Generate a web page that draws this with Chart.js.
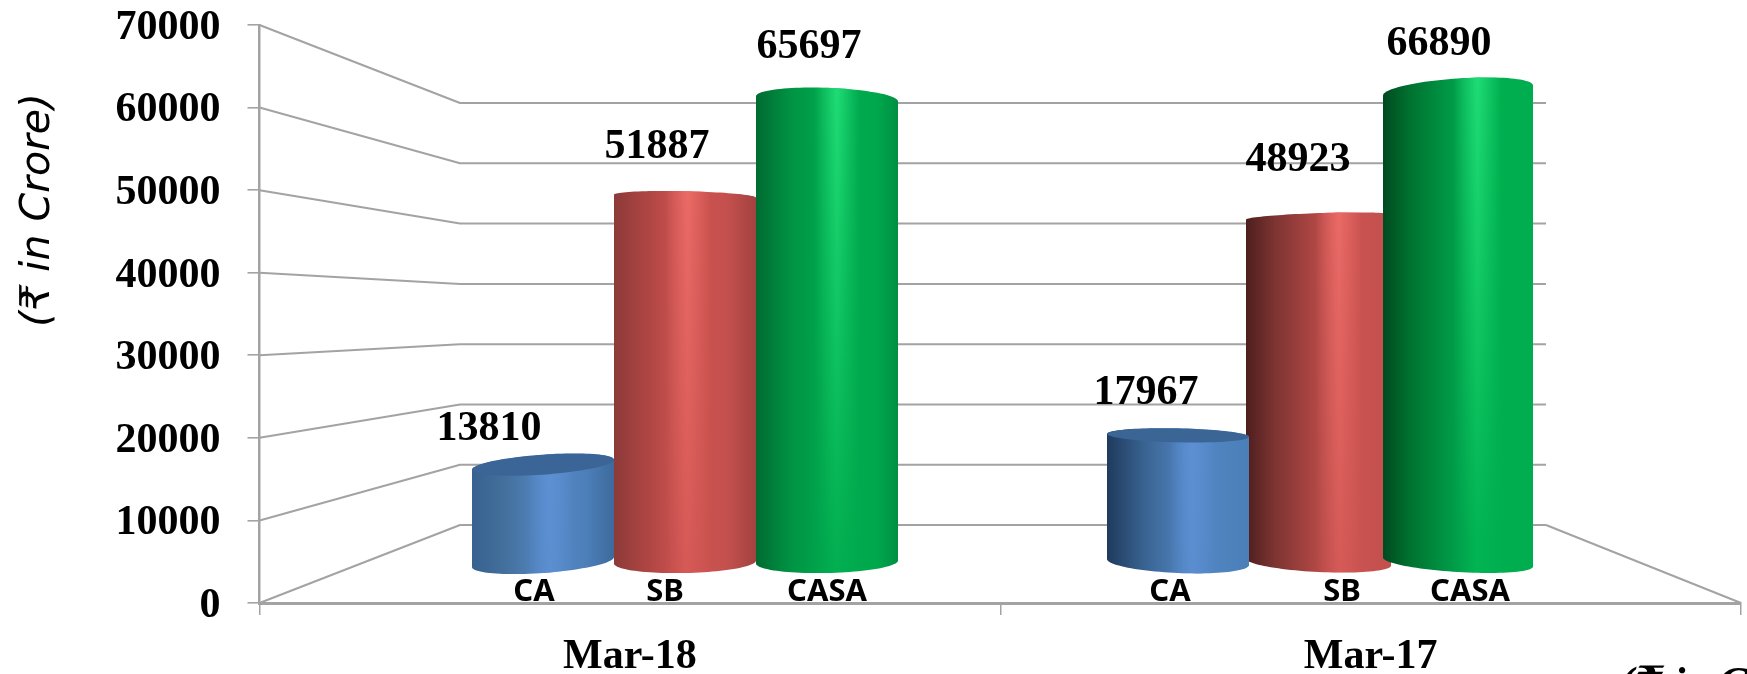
<!DOCTYPE html>
<html>
<head>
<meta charset="utf-8">
<title>CASA deposits</title>
<style>
  html, body { margin: 0; padding: 0; background: #fff; overflow: hidden; }
  canvas { display: block; }
</style>
<script src="https://cdn.jsdelivr.net/npm/chart.js@4/dist/chart.umd.js"></script>
</head>
<body>
<canvas id="chart" width="1747" height="674"></canvas>
<script>
// Deposit figures, in crore of rupees
const categories = ['Mar-18', 'Mar-17'];
const seriesNames = ['CA', 'SB', 'CASA'];
const valuesCA = [13810, 17967];
const valuesSB = [51887, 48923];
const valuesCASA = [65697, 66890];

const SERIF_BOLD = 'bold 42px "Liberation Serif", serif';
const GRID = '#a3a3a3';

// Receding walls of the pseudo-3D frame
const wall = { backLeft: 460, backRight: 1546, backZero: 525, depthRatio: 60.3 / 82.6 };
const plot = { left: 259.5, right: 1741, top: 25, bottom: 603 };

// Cylinders stand half way into the frame, so they use their own hidden scales
const barScaleX = { zero: 685, one: 1320 };
const barScaleY = { zero: 562, perTenThousand: 70.5 };

const xSpan = barScaleX.one - barScaleX.zero;
const xBarsMin = -(barScaleX.zero - plot.left) / xSpan;
const xBarsMax = 1 + (plot.right - barScaleX.one) / xSpan;
const yBarsMin = -(plot.bottom - barScaleY.zero) / barScaleY.perTenThousand * 10000;
const yBarsMax = (barScaleY.zero - plot.top) / barScaleY.perTenThousand * 10000;

// Shading per series and category: side gradient stops, highlight colour
const shades = [
  [
    { stops: [[0, '#37618f'], [.25, '#45719f'], [.55, '#568ac8'], [.8, '#4d7fb9'], [1, '#3d6a9c']], hi: '#5c90d4', hiAt: .55 },
    { stops: [[0, '#1f3a5c'], [.25, '#38618f'], [.6, '#5488c6'], [1, '#4a7fb8']], hi: '#5c90d4', hiAt: .6 }
  ],
  [
    { stops: [[0, '#8c3a38'], [.25, '#b04644'], [.5, '#cf5451'], [.8, '#c4504d'], [1, '#a24240']], hi: '#ea6a66', hiAt: .52 },
    { stops: [[0, '#4d1e1e'], [.2, '#7d3432'], [.45, '#aa4542'], [.65, '#cd5451'], [1, '#c2504d']], hi: '#ea6a66', hiAt: .64 }
  ],
  [
    { stops: [[0, '#006b32'], [.25, '#009444'], [.55, '#00ab4e'], [.85, '#00a84c'], [1, '#008f42']], hi: '#1fdc76', hiAt: .57 },
    { stops: [[0, '#004a20'], [.18, '#00722f'], [.42, '#009545'], [.62, '#00b050'], [1, '#00ad4e']], hi: '#1fdc76', hiAt: .63 }
  ]
];

// Cap geometry: tilt and minor radius of the top and bottom rims, left-edge overhang
const rims = [
  [
    { topTilt: 5, topB: 10, botTilt: 5, botB: 11, extra: 0, cap: '#3b6596' },
    { topTilt: -1.5, topB: 7, botTilt: -3, botB: 11, extra: 0, cap: '#3a6594' }
  ],
  [
    { topTilt: -1.5, topB: 5, botTilt: 1.5, botB: 11, extra: 0 },
    { topTilt: 2.5, topB: 4, botTilt: -3.5, botB: 10, extra: 3 }
  ],
  [
    { topTilt: -2.5, topB: 11, botTilt: 1.5, botB: 11, extra: 0 },
    { topTilt: 5, topB: 12, botTilt: -4.5, botB: 10, extra: 8 }
  ]
];

// Back-to-front painting order of the series inside each category
const paintOrder = [[0, 1, 2], [1, 0, 2]];

// Value label shifts relative to the top of each cylinder
const labelShift = [
  [{ dx: -54, dy: -35 }, { dx: -32, dy: -42 }],
  [{ dx: -28, dy: -49 }, { dx: -22, dy: -57 }],
  [{ dx: -18, dy: -52 }, { dx: -23, dy: -46 }]
];

// Series names printed just under each cylinder
const nameShift = [
  [{ dx: -9 }, { dx: -8 }],
  [{ dx: -20 }, { dx: 22 }],
  [{ dx: 0 }, { dx: 8 }]
];

function rimPoint(cx, cy, a, b, tilt, theta) {
  return [cx + a * Math.cos(theta), cy + b * Math.sin(theta) - tilt * Math.cos(theta)];
}

function cylinderPath(ctx, xl, xr, top, base, rim) {
  const a = (xr - xl) / 2, cx = (xl + xr) / 2, N = 48;
  ctx.beginPath();
  for (let i = 0; i <= N; i++) {
    const p = rimPoint(cx, top, a, rim.topB, rim.topTilt, Math.PI + Math.PI * i / N);
    i ? ctx.lineTo(p[0], p[1]) : ctx.moveTo(p[0], p[1]);
  }
  for (let i = 0; i <= N; i++) {
    const p = rimPoint(cx, base, a, rim.botB, rim.botTilt, Math.PI * i / N);
    ctx.lineTo(p[0], p[1]);
  }
  ctx.closePath();
}

function hexAlpha(hex, alpha) {
  const n = parseInt(hex.slice(1), 16);
  return `rgba(${n >> 16},${(n >> 8) & 255},${n & 255},${alpha})`;
}

function paintCylinder(ctx, bar, si, ci) {
  const rim = rims[si][ci], shade = shades[si][ci];
  const xl = bar.x - bar.width / 2 - rim.extra, xr = bar.x + bar.width / 2;
  const top = bar.y, base = bar.base;
  const extentTop = Math.floor(top - rim.topB - Math.abs(rim.topTilt) - 1);
  const extentBot = Math.ceil(base + rim.botB + Math.abs(rim.botTilt) + 1);

  ctx.save();
  cylinderPath(ctx, xl, xr, top, base, rim);
  ctx.clip();

  const side = ctx.createLinearGradient(xl, 0, xr, 0);
  shade.stops.forEach(s => side.addColorStop(s[0], s[1]));
  ctx.fillStyle = side;
  ctx.fillRect(xl - 1, extentTop, xr - xl + 2, extentBot - extentTop);

  // Specular band, brightest near the top and fading toward the floor
  const band = ctx.createLinearGradient(xl, 0, xr, 0);
  band.addColorStop(Math.max(0, shade.hiAt - .16), hexAlpha(shade.hi, 0));
  band.addColorStop(shade.hiAt, hexAlpha(shade.hi, 1));
  band.addColorStop(Math.min(1, shade.hiAt + .16), hexAlpha(shade.hi, 0));
  ctx.fillStyle = band;
  for (let y = extentTop; y < extentBot; y++) {
    ctx.globalAlpha = 1 - Math.min(1, (y - extentTop) / 470) * .92;
    ctx.fillRect(xl - 1, y, xr - xl + 2, 1);
  }
  ctx.globalAlpha = 1;

  if (rim.cap) {
    const a = (xr - xl) / 2, cx = (xl + xr) / 2;
    ctx.beginPath();
    for (let i = 0; i <= 72; i++) {
      const p = rimPoint(cx, top, a, rim.topB, rim.topTilt, 2 * Math.PI * i / 72);
      i ? ctx.lineTo(p[0], p[1]) : ctx.moveTo(p[0], p[1]);
    }
    ctx.closePath();
    ctx.fillStyle = rim.cap;
    ctx.fill();
  }
  ctx.restore();
}

const frame3d = {
  id: 'frame3d',
  beforeDatasetsDraw(chart) {
    const { ctx } = chart, y = chart.scales.y;
    const zero = y.getPixelForValue(0);
    ctx.save();
    ctx.strokeStyle = GRID;
    ctx.lineJoin = 'round';
    y.ticks.forEach(t => {
      const front = y.getPixelForValue(t.value);
      const back = wall.backZero + (front - zero) * wall.depthRatio;
      ctx.lineWidth = 2;
      ctx.beginPath();
      ctx.moveTo(plot.left, front);
      ctx.lineTo(wall.backLeft, back);
      ctx.lineTo(wall.backRight, back);
      ctx.stroke();
    });
    ctx.beginPath();
    ctx.moveTo(wall.backRight, wall.backZero);
    ctx.lineTo(plot.right, zero);
    ctx.stroke();
    ctx.restore();
  },
  beforeDatasetDraw() {
    return false;
  },
  afterDatasetsDraw(chart) {
    const { ctx } = chart;
    paintOrder.forEach((order, ci) => {
      order.forEach(si => paintCylinder(ctx, chart.getDatasetMeta(si).data[ci], si, ci));
    });
    ctx.save();
    ctx.fillStyle = '#000';
    ctx.textAlign = 'center';
    ctx.textBaseline = 'middle';
    [0, 1, 2].forEach(si => {
      chart.getDatasetMeta(si).data.forEach((bar, ci) => {
        ctx.font = SERIF_BOLD;
        ctx.fillText(String(chart.data.datasets[si].data[ci].y),
          bar.x + labelShift[si][ci].dx, bar.y + labelShift[si][ci].dy);
        ctx.font = 'bold 31px "Noto Sans", sans-serif';
        ctx.fillText(seriesNames[si], bar.x + nameShift[si][ci].dx, 592);
      });
    });
    ctx.restore();
  },
  afterDraw(chart) {
    const { ctx } = chart;
    ctx.save();
    ctx.fillStyle = '#000';
    ctx.translate(38, 210);
    ctx.rotate(-Math.PI / 2);
    ctx.textAlign = 'center';
    ctx.textBaseline = 'middle';
    ctx.font = 'italic 41px "DejaVu Sans", sans-serif';
    ctx.fillText('(₹ in Crore)', 0, 0);
    ctx.restore();

    // Unit note running off the bottom edge of the page
    ctx.save();
    ctx.fillStyle = '#000';
    ctx.textAlign = 'left';
    ctx.textBaseline = 'alphabetic';
    ctx.font = 'italic bold 42px "Liberation Serif", "DejaVu Serif", serif';
    ctx.fillText('(₹ in Crore)', 1620, 696);
    ctx.restore();
  }
};

function toPoints(values) {
  return values.map((v, i) => ({ x: i, y: v }));
}

new Chart(document.getElementById('chart'), {
  type: 'bar',
  data: {
    labels: categories,
    datasets: [
      { label: seriesNames[0], data: toPoints(valuesCA), xAxisID: 'xBars', yAxisID: 'yBars' },
      { label: seriesNames[1], data: toPoints(valuesSB), xAxisID: 'xBars', yAxisID: 'yBars' },
      { label: seriesNames[2], data: toPoints(valuesCASA), xAxisID: 'xBars', yAxisID: 'yBars' }
    ]
  },
  options: {
    responsive: false,
    animation: false,
    barThickness: 142,
    layout: { padding: { left: 0, right: 1747 - plot.right, top: plot.top, bottom: 0 } },
    plugins: { legend: { display: false }, tooltip: { enabled: false } },
    scales: {
      x: {
        type: 'category',
        position: 'bottom',
        afterFit: s => { s.height = 674 - plot.bottom; s.paddingLeft = 0; s.paddingRight = 0; },
        grid: { offset: true, drawOnChartArea: false, color: GRID, lineWidth: 1.5, tickLength: 12 },
        border: { color: GRID, width: 3 },
        ticks: { color: '#000', font: { family: '"Liberation Serif", serif', size: 42, weight: 'bold' }, padding: 17, maxRotation: 0 }
      },
      y: {
        type: 'linear',
        position: 'left',
        min: 0,
        max: 70000,
        afterFit: s => { s.width = plot.left; s.paddingTop = 0; s.paddingBottom = 0; },
        grid: { drawOnChartArea: false, color: GRID, lineWidth: 1.6, tickLength: 12 },
        border: { color: GRID, width: 2.5 },
        ticks: { stepSize: 10000, callback: v => String(v), color: '#000', font: { family: '"Liberation Serif", serif', size: 42, weight: 'bold' }, padding: 27, labelOffset: 3 }
      },
      xBars: { type: 'linear', display: false, offset: false, position: 'bottom', min: xBarsMin, max: xBarsMax },
      yBars: { type: 'linear', display: false, position: 'left', min: yBarsMin, max: yBarsMax }
    }
  },
  plugins: [frame3d]
});
</script>
</body>
</html>
